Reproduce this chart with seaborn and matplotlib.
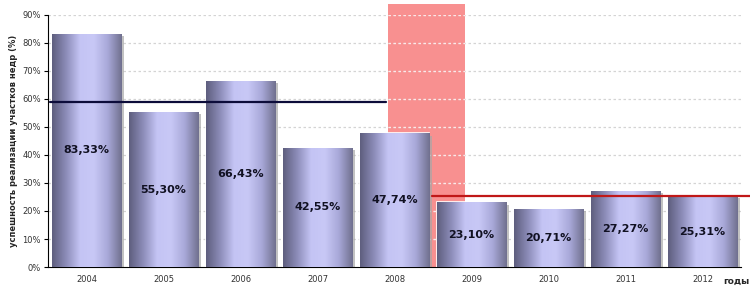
import numpy as np
import pandas as pd
import matplotlib
matplotlib.use("Agg")
import matplotlib.pyplot as plt
from matplotlib.colors import LinearSegmentedColormap
import seaborn as sns

years = ["2004", "2005", "2006", "2007", "2008", "2009", "2010", "2011", "2012"]
values = [83.33, 55.30, 66.43, 42.55, 47.74, 23.10, 20.71, 27.27, 25.31]
labels = ["83,33%", "55,30%", "66,43%", "42,55%", "47,74%", "23,10%", "20,71%", "27,27%", "25,31%"]
avg_before = 59.07
avg_after = 25.4
y_ticks = [0, 10, 20, 30, 40, 50, 60, 70, 80, 90]
y_label = "успешность реализации участков недр (%)"
x_label = "годы"

sns.set_theme(style="white")
plt.rcParams['font.family'] = ['DejaVu Sans']

fig = plt.figure(figsize=(7.5, 2.93), dpi=100)
ax = fig.add_axes([0.064, 0.0887, 0.924, 0.8603])

df = pd.DataFrame({"year": years, "value": values})
sns.barplot(data=df, x="year", y="value", ax=ax, width=0.9, color="#a0a0d0",
            edgecolor="white", linewidth=1.2, zorder=3)

ax.set_xlim(-0.5, len(years) - 0.5)
ax.set_ylim(0, 90)

# gradient fill
cmap = LinearSegmentedColormap.from_list(
    "cyl", ["#5e5e7e", "#8c8cb8", "#c4c4f4", "#c8c8f6", "#a8a8d8", "#70708e"])
grad = np.linspace(0, 1, 256).reshape(1, -1)
for p in ax.patches:
    x0, y0 = p.get_x(), p.get_y()
    w, h = p.get_width(), p.get_height()
    # shadow
    ax.add_patch(plt.Rectangle((x0 + 0.04, y0), w, h - 0.8, facecolor="#a8a8a8",
                               edgecolor="none", zorder=2, alpha=0.7))
    im = ax.imshow(grad, cmap=cmap, aspect="auto", extent=[x0, x0 + w, y0, y0 + h],
                   zorder=3.5, interpolation="bilinear")
    im.set_clip_path(p)

# labels
for i, (v, lab) in enumerate(zip(values, labels)):
    ax.text(i, v / 2, lab, ha="center", va="center", fontsize=8, fontweight="bold",
            color="#111122", zorder=6)

# pink band
span = (3.92, 4.92)
ax.axvspan(span[0], span[1], ymin=0, ymax=1.045, color="#f89090", zorder=1, clip_on=False,
           lw=0)

# gridlines
for t in y_ticks[1:]:
    ax.axhline(t, color="#d4d4d4", lw=0.9, ls=(0, (2, 2)), zorder=1.5)
    ax.plot([span[0], span[1]], [t, t], color="#fde8e8", lw=0.9, ls=(0, (2, 2)), zorder=1.6)

# average lines
ax.plot([-0.47, 3.89], [avg_before, avg_before], color="#0c0c3a", lw=1.6, zorder=5)
ax.plot([4.49, 9.2], [avg_after, avg_after], color="#c01818", lw=1.6, zorder=5,
        clip_on=False)

ax.set_yticks(y_ticks)
ax.set_yticklabels([f"{t}%" for t in y_ticks], fontsize=6, color="#333333")
ax.set_xticks(range(len(years)))
ax.set_xticklabels(years, fontsize=6, color="#333333")
ax.set_xticks(np.arange(-0.5, len(years)), minor=True)
ax.tick_params(axis="x", which="major", length=0, pad=6)
ax.tick_params(axis="x", which="minor", length=3, width=0.8, color="black", direction="out")
ax.tick_params(axis="y", length=3, width=0.8, color="black", direction="out", left=True, pad=2)

for s in ["top", "right"]:
    ax.spines[s].set_visible(False)
for s in ["left", "bottom"]:
    ax.spines[s].set_color("black")
    ax.spines[s].set_linewidth(0.8)

ax.set_xlabel("")
ax.set_ylabel(y_label, fontsize=6, fontweight="bold", labelpad=3)
ax.text(0.993, -0.056, x_label, transform=ax.transAxes, fontsize=6.5, fontweight="bold",
        ha="center", va="center")

fig.savefig("out.png", dpi=100)
